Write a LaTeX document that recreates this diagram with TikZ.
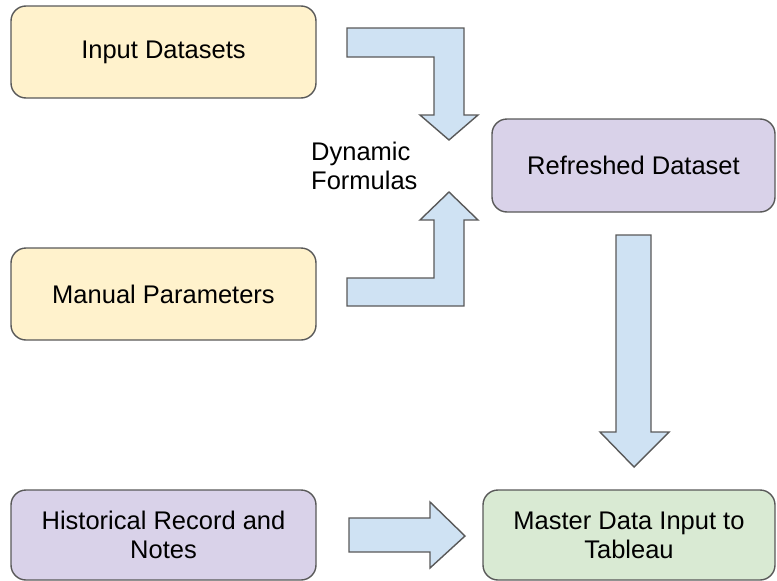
\documentclass[tikz,border=0pt]{standalone}
\usepackage{fontspec}
\setmainfont{Liberation Sans}
\usepackage{xcolor}
\usetikzlibrary{positioning}

\definecolor{inputfill}{HTML}{FFF2CC}
\definecolor{stagefill}{HTML}{D9D2E9}
\definecolor{outputfill}{HTML}{D9EAD3}
\definecolor{arrowfill}{HTML}{CFE2F3}
\definecolor{edgegray}{HTML}{595959}

\tikzset{
	databox/.style={draw=edgegray, line width=1.4pt, rounded corners=15pt,
		minimum width=305pt, minimum height=92pt, align=center,
		font=\fontsize{25.5}{29}\selectfont},
	blockarrow/.style={draw=edgegray, fill=arrowfill, line width=1.4pt, line join=miter},
}

\begin{document}
\begin{tikzpicture}[x=1pt, y=-1pt]
			\useasboundingbox (0,0) rectangle (777,581);
			
			% Sources on the left
			\node[databox, fill=inputfill] (inputs) at (163.5,52) {Input Datasets};
			\node[databox, fill=inputfill] (params) at (163.5,294) {Manual Parameters};
			\node[databox, fill=stagefill, minimum height=90pt] (history) at (163.5,535) {Historical Record and\\Notes};
			
			% Processed data on the right
			\node[databox, fill=stagefill, minimum width=283pt, minimum height=93pt] (refreshed) at (633.5,165.5) {Refreshed Dataset};
			\node[databox, fill=outputfill, minimum width=292pt, minimum height=90pt] (master) at (629,535) {Master Data Input to\\Tableau};
			
			\node[anchor=west, inner sep=0pt, align=left, font=\fontsize{25.5}{29}\selectfont] (formulas) at (311,166) {Dynamic\\Formulas};
			
			% Bent arrow: input datasets down into the refreshed dataset
			\draw[blockarrow] (347,28) -- (464,28) -- (464,115) -- (478,115) -- (449,140)
				-- (420,115) -- (434,115) -- (434,57) -- (347,57) -- cycle;
			
			% Bent arrow: manual parameters up into the refreshed dataset
			\draw[blockarrow] (347,306) -- (464,306) -- (464,220) -- (478,220) -- (449,192)
				-- (420,220) -- (434,220) -- (434,278) -- (347,278) -- cycle;
			
			% Refreshed dataset down to the master data
			\draw[blockarrow] (616,235) -- (651,235) -- (651,432) -- (669,432) -- (634,467)
				-- (600,432) -- (616,432) -- cycle;
			
			% History across to the master data
			\draw[blockarrow] (349,518) -- (430,518) -- (430,502) -- (465,536) -- (430,568)
				-- (430,552) -- (349,552) -- cycle;
		\end{tikzpicture}
\end{document}
